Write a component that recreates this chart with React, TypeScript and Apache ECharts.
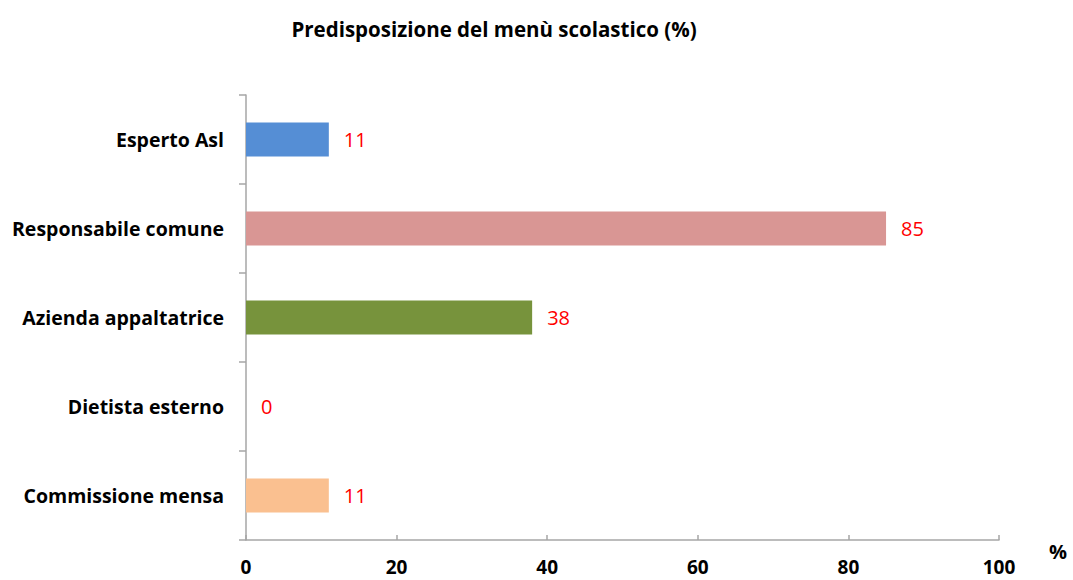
import React, { useEffect, useRef } from "react";
import * as echarts from "echarts";

const categories = ["Esperto Asl", "Responsabile comune", "Azienda appaltatrice", "Dietista esterno", "Commissione mensa"];
const values = [11, 85, 38, 0, 11];
const colors = ["#558ED5", "#D99694", "#77933C", "#8064A2", "#FAC090"];
const xTicks = [0, 20, 40, 60, 80, 100];

export default function App() {
  const ref = useRef<HTMLDivElement>(null);
  useEffect(() => {
    const chart = echarts.init(ref.current!, null, { renderer: "svg" });
    const font = "Open Sans";
    chart.setOption({
      animation: false,
      backgroundColor: "#ffffff",
      title: {
        text: "Predisposizione del menù scolastico (%)",
        left: 489,
        textAlign: "center",
        top: 13,
        textStyle: { fontFamily: font, fontWeight: "bold", fontSize: 20.5, color: "#000" },
      },
      grid: { left: 246, right: 74, top: 95, bottom: 40, containLabel: false },
      xAxis: {
        type: "value",
        min: xTicks[0],
        max: xTicks[xTicks.length - 1],
        interval: 20,
        axisLine: { show: true, lineStyle: { color: "#A6A6A6", width: 1.5 } },
        axisTick: { show: true, inside: true, length: 5, lineStyle: { color: "#A6A6A6", width: 1.5 } },
        splitLine: { show: false },
        axisLabel: { fontFamily: font, fontWeight: "bold", fontSize: 19, color: "#000", margin: 17 },
      },
      yAxis: {
        type: "category",
        inverse: true,
        data: categories,
        axisLine: { show: true, lineStyle: { color: "#A6A6A6", width: 1.5 } },
        axisTick: { show: true, length: 7, lineStyle: { color: "#A6A6A6", width: 1.5 } },
        axisLabel: { fontFamily: font, fontWeight: "bold", fontSize: 19.5, color: "#000", margin: 22 },
      },
      graphic: [
        {
          type: "text",
          left: 1049,
          top: 541,
          style: { text: "%", fontFamily: font, fontWeight: "bold", fontSize: 20, fill: "#000" },
        },
      ],
      series: [
        {
          type: "bar",
          barWidth: 34,
          data: values.map((v, i) => ({ value: v, itemStyle: { color: colors[i] } })),
          label: {
            show: true,
            position: "right",
            distance: 15,
            color: "#FF0000",
            fontFamily: font,
            fontSize: 20,
          },
        },
      ],
    });
    return () => chart.dispose();
  }, []);
  return <div ref={ref} style={{ width: 1073, height: 580, position: "absolute", left: 0, top: 0 }} />;
}
